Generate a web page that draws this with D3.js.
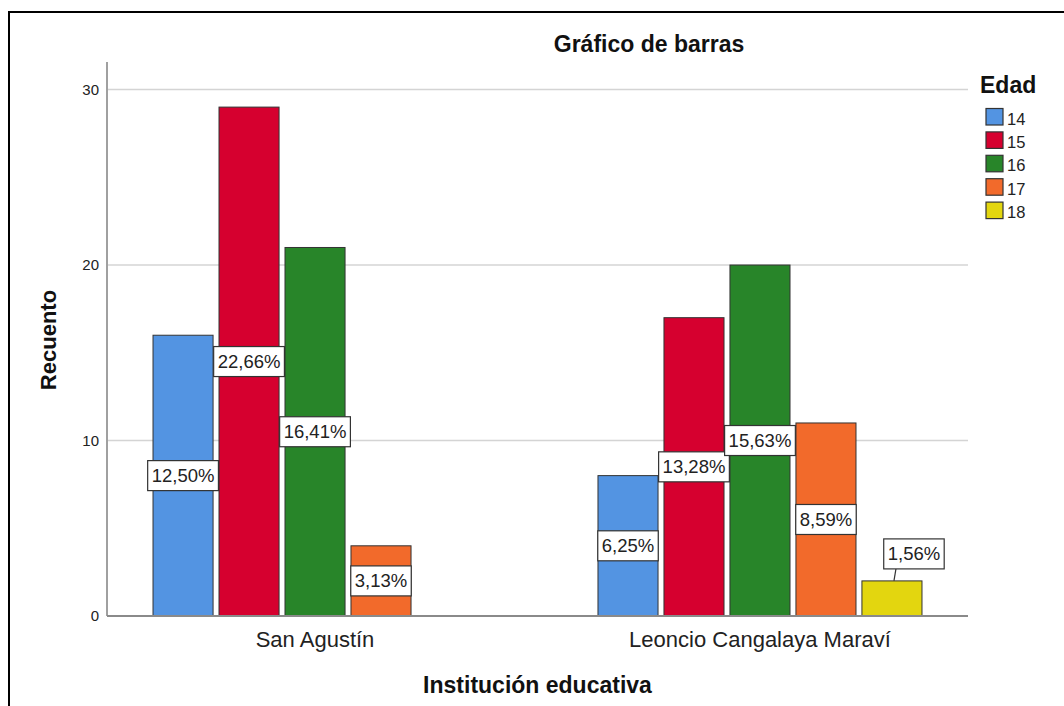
<!DOCTYPE html>
<html><head><meta charset="utf-8">
<script src="https://cdn.jsdelivr.net/npm/d3@7"></script>
<style>body{margin:0;background:#fff}svg{display:block;font-family:"Liberation Sans",Arial,sans-serif}</style>
</head><body><svg id="c" width="1064" height="706"></svg>
<script>
const categories = ["San Agustín", "Leoncio Cangalaya Maraví"];
const ages = ["14", "15", "16", "17", "18"];
const countsSanAgustin = [16, 29, 21, 4, null];
const countsLeoncio = [8, 17, 20, 11, 2];
const yTicks = [0, 10, 20, 30];
const colors = ["#5394E2", "#D6002F", "#288529", "#F26A2B", "#E3D60F"];
const chartTitle = "Gráfico de barras";
const xTitle = "Institución educativa";
const yTitle = "Recuento";
const legendTitle = "Edad";

const svg = d3.select("#c");
const W = 1064, H = 706;
const plot = {left: 107, right: 968, bottom: 616, top: 62};

const series = [countsSanAgustin, countsLeoncio];
const total = d3.sum(series.flat().filter(v => v != null));
const pct = v => (v / total * 100).toFixed(2).replace(".", ",") + "%";

// frame
svg.append("rect").attr("x", 9).attr("y", 12).attr("width", 1200).attr("height", 900)
  .attr("fill", "none").attr("stroke", "#000").attr("stroke-width", 2);

const y = d3.scaleLinear().domain([0, 31.57]).range([plot.bottom, plot.top]);
const x = d3.scalePoint().domain(categories).range([plot.left, plot.right]).padding(0.4675);
const xi = d3.scaleBand().domain(ages).range([-162, 162]).paddingInner(0.09);

// gridlines
svg.append("g").selectAll("line").data(yTicks.filter(t => t > 0)).join("line")
  .attr("x1", plot.left).attr("x2", plot.right)
  .attr("y1", d => y(d)).attr("y2", d => y(d))
  .attr("stroke", "#d4d4d4").attr("stroke-width", 1.5);

// y axis
const yAxis = d3.axisLeft(y).tickValues(yTicks).tickSize(0).tickPadding(8).tickFormat(d3.format("d"));
const ga = svg.append("g").attr("transform", `translate(${plot.left},0)`).call(yAxis);
ga.select(".domain").attr("stroke", "#a0a0a0").attr("stroke-width", 2)
  .attr("d", `M0,${plot.top}V${plot.bottom}`);
ga.selectAll("text").attr("font-size", 15).attr("fill", "#222").attr("font-family", "Liberation Sans, Arial, sans-serif");

// bars
const groups = svg.append("g").selectAll("g").data(categories).join("g")
  .attr("transform", d => `translate(${x(d)},0)`);
groups.each(function(cat, ci) {
  const g = d3.select(this);
  const vals = series[ci].map((v, i) => ({age: ages[i], v, i})).filter(d => d.v != null);
  g.selectAll("rect").data(vals).join("rect")
    .attr("x", d => xi(d.age)).attr("width", xi.bandwidth())
    .attr("y", d => y(d.v)).attr("height", d => y(0) - y(d.v))
    .attr("fill", d => colors[d.i]).attr("stroke", "#333").attr("stroke-width", 1);
});

// x baseline
svg.append("line").attr("x1", plot.left).attr("x2", plot.right)
  .attr("y1", y(0)).attr("y2", y(0)).attr("stroke", "#8a8a8a").attr("stroke-width", 2);

// labels
groups.each(function(cat, ci) {
  const g = d3.select(this);
  series[ci].forEach((v, i) => {
    if (v == null) return;
    const cx = xi(ages[i]) + xi.bandwidth() / 2;
    const barTop = y(v), barH = y(0) - y(v);
    let bx = cx, by = (y(v) + y(0)) / 2;
    const lg = g.append("g");
    const above = barH < 40;
    if (above) { bx = cx + 22; by = barTop - 27; }
    const t = lg.append("text").text(pct(v)).attr("font-size", 18.5).attr("fill", "#222")
      .attr("text-anchor", "middle").attr("x", bx).attr("y", by).attr("dy", "0.35em");
    const w = t.node().getComputedTextLength() + 8;
    lg.insert("rect", "text").attr("x", bx - w / 2).attr("y", by - 15).attr("width", w).attr("height", 30)
      .attr("fill", "#fff").attr("stroke", "#333").attr("stroke-width", 1.2);
    if (above) {
      lg.insert("line", "rect").attr("x1", cx + 2).attr("y1", barTop).attr("x2", cx + 4).attr("y2", by + 15)
        .attr("stroke", "#333").attr("stroke-width", 1.2);
    }
  });
});

// category labels
svg.append("g").selectAll("text").data(categories).join("text")
  .attr("x", d => x(d)).attr("y", 647).attr("text-anchor", "middle")
  .attr("font-size", 22).attr("fill", "#222").text(d => d);

// titles
svg.append("text").attr("x", 649).attr("y", 52).attr("text-anchor", "middle")
  .attr("font-size", 23).attr("font-weight", "bold").attr("fill", "#111").text(chartTitle);
svg.append("text").attr("x", (plot.left + plot.right) / 2).attr("y", 693).attr("text-anchor", "middle")
  .attr("font-size", 23).attr("font-weight", "bold").attr("fill", "#111").text(xTitle);
svg.append("text").attr("transform", "translate(56,340) rotate(-90)").attr("text-anchor", "middle")
  .attr("font-size", 22).attr("font-weight", "bold").attr("fill", "#111").text(yTitle);

// legend
const leg = svg.append("g").attr("transform", "translate(980,0)");
leg.append("text").attr("x", 0).attr("y", 93).attr("font-size", 23).attr("font-weight", "bold")
  .attr("fill", "#111").text(legendTitle);
const items = leg.selectAll("g.it").data(ages).join("g").attr("class", "it")
  .attr("transform", (d, i) => `translate(6,${108.5 + i * 23.4})`);
items.append("rect").attr("width", 17).attr("height", 16.5)
  .attr("fill", (d, i) => colors[i]).attr("stroke", "#333").attr("stroke-width", 1.2);
items.append("text").attr("x", 21).attr("y", 16).attr("font-size", 16.5).attr("fill", "#222").text(d => d);
</script></body></html>
